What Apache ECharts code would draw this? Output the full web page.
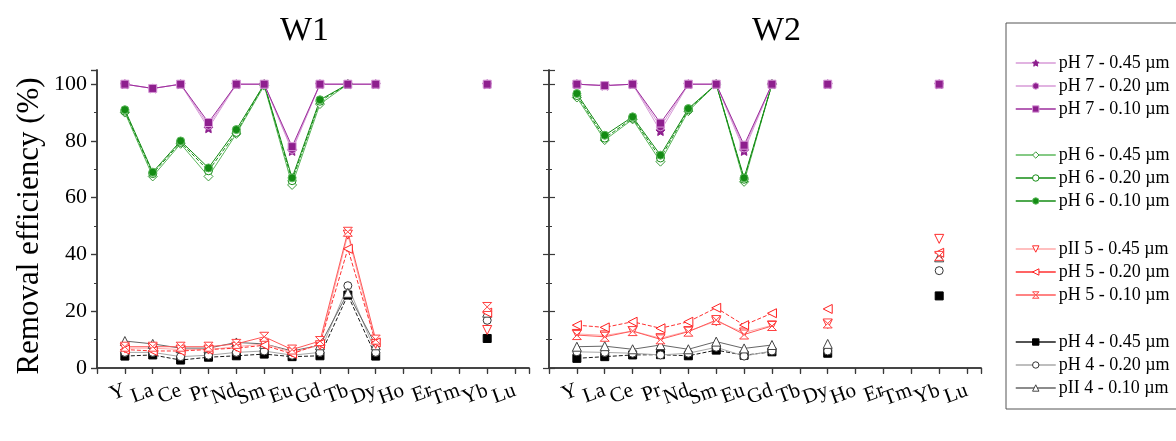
<!DOCTYPE html>
<html>
<head>
<meta charset="utf-8">
<script src="https://cdn.jsdelivr.net/npm/echarts@6/dist/echarts.min.js"></script>
<style>
  html, body { margin: 0; padding: 0; background: #fff; }
  #chart { width: 1176px; height: 441px; }
</style>
</head>
<body>
<div id="chart"></div>
<script>
// Rare earth elements on the x axis
const categories = ['Y', 'La', 'Ce', 'Pr', 'Nd', 'Sm', 'Eu', 'Gd', 'Tb', 'Dy', 'Ho', 'Er', 'Tm', 'Yb', 'Lu'];
const yTicks = [0, 20, 40, 60, 80, 100];
const panelTitles = ['W1', 'W2'];

// Series names (legend text)
const seriesNames = [
  'pH 7 - 0.45 µm', 'pH 7 - 0.20 µm', 'pH 7 - 0.10 µm',
  'pH 6 - 0.45 µm', 'pH 6 - 0.20 µm', 'pH 6 - 0.10 µm',
  'pII 5 - 0.45 µm', 'pH 5 - 0.20 µm', 'pH 5 - 0.10 µm',
  'pH 4 - 0.45 µm', 'pH 4 - 0.20 µm', 'pII 4 - 0.10 µm'
];

// Removal efficiency (%) — W1
const w1_pH7_045 = [100, 98.5, 100, 84.5, 100, 100, 76.5, 100, 100, 100, null, null, null, 100, null];
const w1_pH7_020 = [100, 98.5, 100, 85.5, 100, 100, 77, 100, 100, 100, null, null, null, 100, null];
const w1_pH7_010 = [100, 98.5, 100, 86.5, 100, 100, 78, 100, 100, 100, null, null, null, 100, null];
const w1_pH6_045 = [90, 67.5, 79, 67.5, 82.5, 99.5, 64.5, 93, 100, null, null, null, null, null, null];
const w1_pH6_020 = [90.5, 68.5, 79.5, 69.5, 83, 100, 66, 94, 100, null, null, null, null, null, null];
const w1_pH6_010 = [91, 69, 80, 70.5, 84, 100, 67, 94.5, 100, null, null, null, null, null, null];
const w1_pH5_045 = [7, 7, 6.5, 6.5, 7.5, 8.5, 5.5, 8, 47, 8.5, null, null, null, 13.4, null];
const w1_pH5_020 = [6.5, 6, 6, 6.5, 7, 8, 5, 8.5, 42, 9, null, null, null, 19.5, null];
const w1_pH5_010 = [7.5, 7.5, 7.5, 7.5, 8.5, 11, 6.5, 9.5, 48, 10, null, null, null, 21.5, null];
const w1_pH4_045 = [4.2, 4.6, 2.8, 3.8, 4.3, 4.9, 4.0, 4.3, 25.7, 4.2, null, null, null, 10.4, null];
const w1_pH4_020 = [5.5, 5.5, 4, 4.5, 5.5, 6, 4.5, 5.5, 29, 5.5, null, null, null, 16.8, null];
const w1_pH4_010 = [9.5, 8.5, 7, 7, 9, 8.5, 6, 8, 26.5, 8, null, null, null, 19.5, null];

// Removal efficiency (%) — W2
const w2_pH7_045 = [100, 99.5, 100, 83.5, 100, 100, 76.5, 100, null, 100, null, null, null, 100, null];
const w2_pH7_020 = [100, 99.5, 100, 85, 100, 100, 77.5, 100, null, 100, null, null, null, 100, null];
const w2_pH7_010 = [100, 99.5, 100, 86.3, 100, 100, 78.5, 100, null, 100, null, null, null, 100, null];
const w2_pH6_045 = [95.3, 80.3, 87.6, 72.7, 90.5, 100, 65.6, 100, null, null, null, null, null, null, null];
const w2_pH6_020 = [96, 81, 88, 74, 91, 100, 66.5, 100, null, null, null, null, null, null, null];
const w2_pH6_010 = [96.7, 82, 88.5, 75, 91.4, 100, 67, 100, null, null, null, null, null, null, null];
const w2_pH5_045 = [12, 11.5, 13, 10.5, 13, 16.5, 12.5, 15, null, 15.5, null, null, null, 45.5, null];
const w2_pH5_020 = [15.1, 14.3, 16.3, 14, 16.3, 21.2, 15.1, 19.3, null, 20.8, null, null, null, 40.6, null];
const w2_pH5_010 = [11.6, 11, 13, 10.1, 12.8, 16.9, 11.8, 14.8, null, 15.7, null, null, null, 39.5, null];
const w2_pH4_045 = [3.4, 4, 4.6, 4.7, 4.3, 6.3, 4.5, 5.7, null, 5.2, null, null, null, 25.4, null];
const w2_pH4_020 = [5.7, 5.5, 5.2, 4.6, 5.2, 7.3, 4.2, 6, null, 6, null, null, null, 34.3, null];
const w2_pH4_010 = [7.5, 7.7, 6.6, 8.1, 6.6, 9.3, 6.9, 8.1, null, 8.5, null, null, null, 39, null];

const panelData = [
  [w1_pH7_045, w1_pH7_020, w1_pH7_010, w1_pH6_045, w1_pH6_020, w1_pH6_010,
   w1_pH5_045, w1_pH5_020, w1_pH5_010, w1_pH4_045, w1_pH4_020, w1_pH4_010],
  [w2_pH7_045, w2_pH7_020, w2_pH7_010, w2_pH6_045, w2_pH6_020, w2_pH6_010,
   w2_pH5_045, w2_pH5_020, w2_pH5_010, w2_pH4_045, w2_pH4_020, w2_pH4_010]
];

const FONT = "'Liberation Serif', 'DejaVu Serif', serif";

// Marker shapes
const STAR = 'path://M0,-10L2.9,-4L9.5,-3.1L4.8,1.5L5.9,8.1L0,5L-5.9,8.1L-4.8,1.5L-9.5,-3.1L-2.9,-4Z';
const DOWN_TRI = 'path://M-5,-4L5,-4L0,5Z';
const LEFT_TRI = 'path://M5,-5L5,5L-5,0Z';
const HOURGLASS = 'path://M-5,-5L5,-5L0,0L5,5L-5,5L0,0Z';

// Style per series: line colour, dash, marker, marker fill, marker stroke
const styles = [
  { line: '#d79ad7', type: 'solid',  symbol: STAR,          fill: '#8e1f8e', stroke: '#8e1f8e', size: 9 },
  { line: '#d79ad7', type: 'solid',  symbol: 'circle',      fill: '#8e1f8e', stroke: '#d79ad7', size: 8 },
  { line: '#9c2c9c', type: 'solid',  symbol: 'rect',        fill: '#8e1f8e', stroke: '#d79ad7', size: 8 },
  { line: '#5cb85c', type: 'solid',  symbol: 'diamond',     fill: '#ffffff', stroke: '#3a9a3a', size: 9 },
  { line: '#148c14', type: 'dashed', symbol: 'circle',      fill: '#ffffff', stroke: '#148c14', size: 8 },
  { line: '#148c14', type: 'solid',  symbol: 'circle',      fill: '#148c14', stroke: '#5cb85c', size: 8 },
  { line: '#ffaaaa', type: 'solid',  symbol: DOWN_TRI,      fill: '#ffffff', stroke: '#ff2a2a', size: 9 },
  { line: '#ff3030', type: 'dashed', symbol: LEFT_TRI,      fill: '#ffffff', stroke: '#ff2020', size: 9 },
  { line: '#ff5a5a', type: 'solid',  symbol: HOURGLASS,     fill: '#ffffff', stroke: '#ff4040', size: 9 },
  { line: '#1a1a1a', type: 'dashed', symbol: 'rect',        fill: '#000000', stroke: '#000000', size: 8 },
  { line: '#a8a8a8', type: 'solid',  symbol: 'circle',      fill: '#ffffff', stroke: '#333333', size: 8 },
  { line: '#666666', type: 'solid',  symbol: 'triangle',    fill: '#ffffff', stroke: '#444444', size: 9 }
];

const grids = [
  { left: 97, top: 70, width: 432, height: 298 },
  { left: 549, top: 70, width: 432, height: 298 }
];

const axisLineStyle = { color: '#3a3a3a', width: 1.5 };

const xAxes = [];
const yAxes = [];
grids.forEach((g, gi) => {
  xAxes.push({
    gridIndex: gi, type: 'value', position: 'bottom', min: 0, max: 15.5, interval: 1,
    axisLine: { show: true, lineStyle: axisLineStyle },
    axisTick: { show: true, inside: false, length: 6, lineStyle: { color: '#3a3a3a', width: 1.2 } },
    splitLine: { show: false },
    axisLabel: {
      show: true, rotate: 20, margin: 22, fontSize: 21, fontFamily: FONT, color: '#000',
      formatter: v => (Number.isInteger(v) && v >= 1 && v <= categories.length) ? categories[v - 1] : ''
    }
  });
  xAxes.push({
    gridIndex: gi, type: 'value', position: 'top', min: 0, max: 15.5, interval: 1,
    axisLine: { show: true, lineStyle: axisLineStyle },
    axisTick: { show: true, inside: true, length: 5, lineStyle: { color: '#3a3a3a', width: 1.2 } },
    splitLine: { show: false },
    axisLabel: { show: false }
  });
  yAxes.push({
    gridIndex: gi, type: 'value', position: 'left', min: yTicks[0], max: 105, interval: 20,
    axisLine: { show: true, lineStyle: axisLineStyle },
    axisTick: { show: true, inside: gi === 1, length: 6, lineStyle: { color: '#3a3a3a', width: 1.2 } },
    minorTick: { show: true, splitNumber: 2, length: 3, lineStyle: { color: '#3a3a3a', width: 1 } },
    splitLine: { show: false },
    axisLabel: {
      show: gi === 0, margin: 10, fontSize: 22, fontFamily: FONT, color: '#000',
      showMaxLabel: false,
      formatter: v => (yTicks.indexOf(v) >= 0 ? String(v) : '')
    }
  });
  yAxes.push({
    gridIndex: gi, type: 'value', position: 'right', min: yTicks[0], max: 105, interval: 20,
    axisLine: { show: true, lineStyle: axisLineStyle },
    axisTick: { show: true, inside: true, length: 6, lineStyle: { color: '#3a3a3a', width: 1.2 } },
    minorTick: { show: true, splitNumber: 2, length: 3, lineStyle: { color: '#3a3a3a', width: 1 } },
    splitLine: { show: false },
    axisLabel: { show: false }
  });
});

// Draw order: pH 4 first, pH 7 last (on top)
const drawOrder = [9, 10, 11, 6, 7, 8, 3, 4, 5, 0, 1, 2];
const series = [];
panelData.forEach((sets, gi) => {
  drawOrder.forEach(k => {
    const st = styles[k];
    series.push({
      name: seriesNames[k],
      type: 'line',
      xAxisIndex: gi * 2,
      yAxisIndex: gi * 2,
      data: sets[k].map((v, i) => [i + 1, v == null ? '-' : v]),
      connectNulls: false,
      symbol: st.symbol,
      symbolSize: st.size,
      showAllSymbol: true,
      lineStyle: { color: st.line, width: 1, type: st.type },
      itemStyle: { color: st.fill, borderColor: st.stroke, borderWidth: 1 },
      emphasis: { disabled: true },
      animation: false
    });
  });
});

// Four legend groups of three, each entry styled like its series
const legendTops = [49, 141, 235, 328];
const legends = legendTops.map((top, g) => ({
  orient: 'vertical', left: 1010, top: top,
  itemWidth: 40, itemHeight: 8, itemGap: 5,
  selectedMode: false,
  data: [0, 1, 2].map(j => {
    const k = g * 3 + j;
    const st = styles[k];
    return {
      name: seriesNames[k],
      itemStyle: { color: st.fill, borderColor: st.stroke, borderWidth: 1 },
      lineStyle: { color: st.line, type: 'solid', width: 1.5 }
    };
  }),
  textStyle: { fontSize: 18, fontFamily: FONT, color: '#000', lineHeight: 18, padding: [0, 0, 0, -2] }
}));

const chart = echarts.init(document.getElementById('chart'), null, { renderer: 'canvas' });
chart.setOption({
  backgroundColor: '#ffffff',
  animation: false,
  grid: grids,
  xAxis: xAxes,
  yAxis: yAxes,
  legend: legends,
  series: series,
  graphic: [
    { type: 'text', left: 305 - 25, top: 14, style: { text: panelTitles[0], font: '34px ' + FONT, fill: '#000' } },
    { type: 'text', left: 779 - 27, top: 14, style: { text: panelTitles[1], font: '34px ' + FONT, fill: '#000' } },
    {
      type: 'text', x: 30, y: 226, rotation: Math.PI / 2,
      style: { text: 'Removal efficiency (%)', font: '31px ' + FONT, fill: '#000', align: 'center', verticalAlign: 'middle' }
    },
    { type: 'rect', shape: { x: 1006, y: 23, width: 200, height: 386 }, style: { fill: 'none', stroke: '#555', lineWidth: 1 } }
  ]
});
</script>
</body>
</html>
